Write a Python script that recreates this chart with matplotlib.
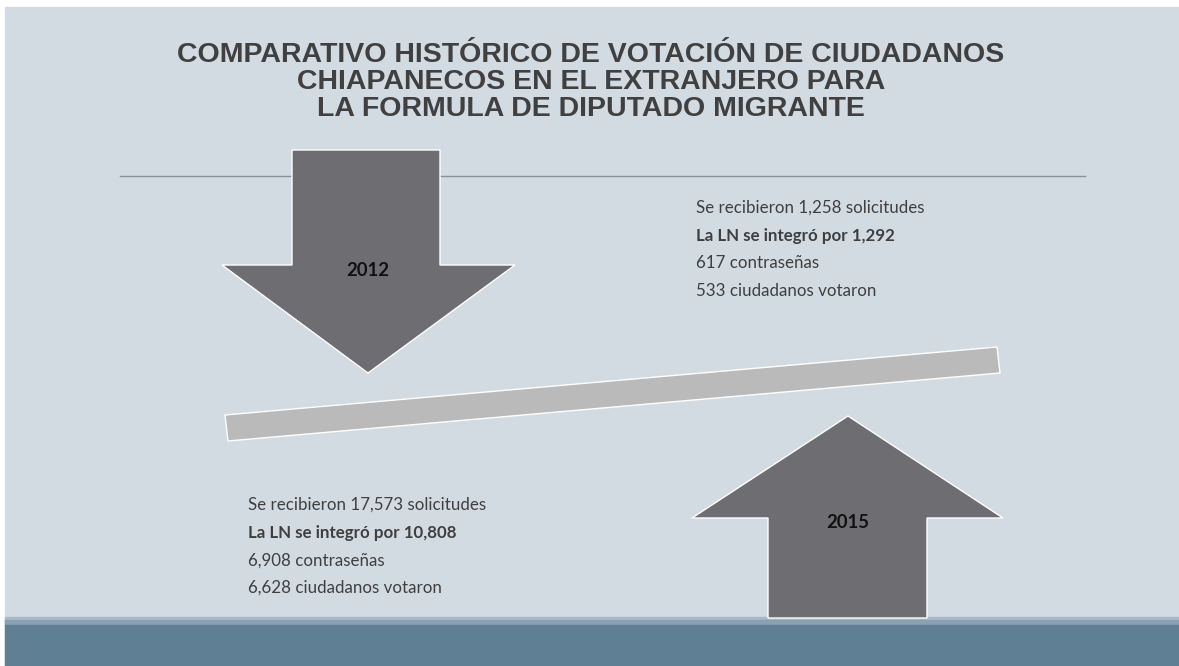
import matplotlib.pyplot as plt
from matplotlib.patches import Polygon, Rectangle

W, H = 1179, 666
BG = "#d3dbe2"
ARROW = "#6e6d72"
TXT = "#3f3f3f"

title_lines = [
    "COMPARATIVO HISTÓRICO DE VOTACIÓN DE CIUDADANOS",
    "CHIAPANECOS EN EL EXTRANJERO PARA",
    "LA FORMULA DE DIPUTADO MIGRANTE",
]
years = ["2012", "2015"]
solicitudes = ["1,258", "17,573"]
lista_nominal = ["1,292", "10,808"]
contrasenas = ["617", "6,908"]
votaron = ["533", "6,628"]

fig = plt.figure(figsize=(W / 100, H / 100), dpi=100)
fig.patch.set_facecolor("white")
ax = fig.add_axes([0, 0, 1, 1])
ax.set_xlim(0, W)
ax.set_ylim(H, 0)
ax.axis("off")

# slide background and bottom band
ax.add_patch(Rectangle((5, 7), W - 5, H - 7, color=BG, zorder=0))
ax.add_patch(Rectangle((5, 617), W - 5, 8, color="#a9b9c6", zorder=1))
ax.add_patch(Rectangle((5, 620), W - 5, 5, color="#8aa1b2", zorder=1))
ax.add_patch(Rectangle((5, 625), W - 5, H - 625, color="#5f7f95", zorder=1))

for i, line in enumerate(title_lines):
    ax.text(591, 55 + i * 27, line, ha="center", va="center", fontsize=20.5,
            fontweight="bold", color="#404040", family="Liberation Sans")

ax.plot([120, 1085], [176, 176], color="#8a9299", lw=1, zorder=2)

# down arrow (2012)
down = [(292, 150), (440, 150), (440, 265), (515, 265), (368, 373),
        (222, 265), (292, 265)]
ax.add_patch(Polygon(down, closed=True, fc=ARROW, ec="white", lw=1, zorder=3))
ax.text(368, 270, years[0], ha="center", va="center", fontsize=13.3,
        fontweight="bold", color="#111111", family="Lato")

# up arrow (2015)
up = [(768, 618), (768, 518), (692, 518), (848, 416), (1003, 518),
      (927, 518), (927, 618)]
ax.add_patch(Polygon(up, closed=True, fc=ARROW, ec="white", lw=1, zorder=3))
ax.text(848, 522, years[1], ha="center", va="center", fontsize=13.3,
        fontweight="bold", color="#111111", family="Lato")

# tilted bar
bar = [(225, 415), (997, 347), (1000, 373), (228, 441)]
ax.add_patch(Polygon(bar, closed=True, fc="#bababa", ec="white", lw=1, zorder=3))


def block(x, y0, k):
    rows = [
        (f"Se recibieron {solicitudes[k]} solicitudes", "normal"),
        (f"La LN se integró por {lista_nominal[k]}", "bold"),
        (f"{contrasenas[k]} contraseñas", "normal"),
        (f"{votaron[k]} ciudadanos votaron", "normal"),
    ]
    for j, (s, w) in enumerate(rows):
        ax.text(x, y0 + j * 27.7, s, ha="left", va="center", fontsize=12.2,
                fontweight=w, color=TXT, family="Lato")


block(696, 208, 0)
block(248, 505, 1)

fig.savefig("out.png", dpi=100, facecolor=fig.get_facecolor())
